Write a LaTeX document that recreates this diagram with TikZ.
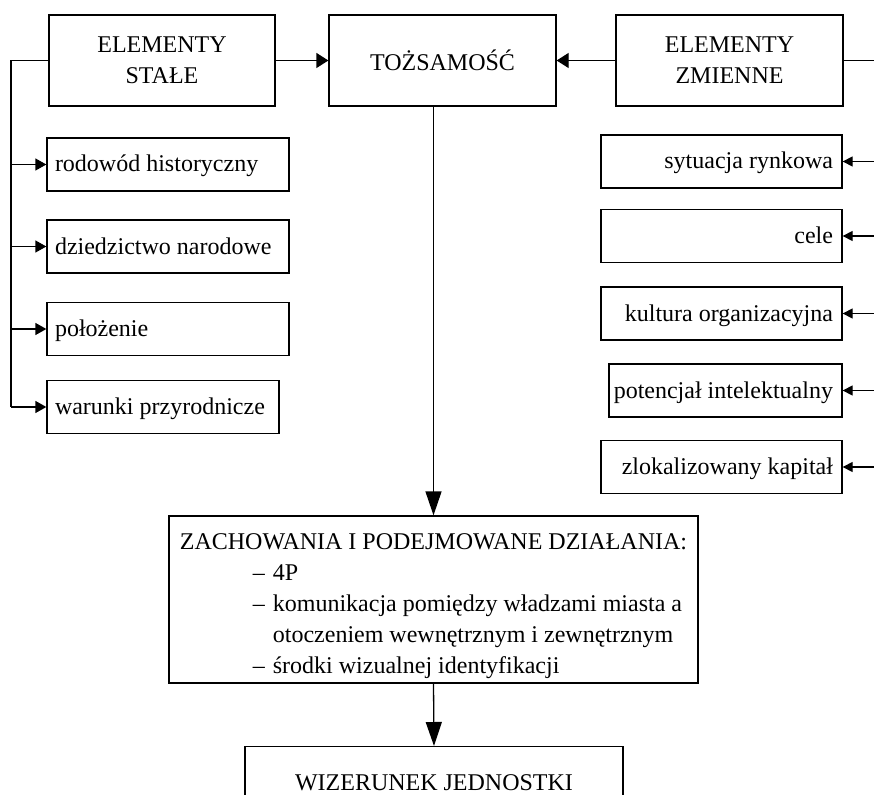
\documentclass[tikz,border=0pt]{standalone}
\usepackage{fontspec}
\setmainfont{Liberation Serif}
\usetikzlibrary{arrows.meta}
\newcommand\lefttxt[2]{\makebox[#1][l]{#2}}
\newcommand\righttxt[2]{\makebox[#1][r]{#2}}
\newcommand\itemdash{\makebox[20pt][l]{–}}
\begin{document}
\begin{tikzpicture}[x=1pt,y=-1pt,
  font=\fontsize{24}{31}\selectfont,
  box/.style={draw, line width=1.3pt, rectangle, inner sep=0pt},
  head/.style={box, minimum width=227pt, minimum height=91pt, align=center},
  itembox/.style={box, minimum height=53pt, text height=17pt, text depth=2pt},
  conn/.style={line width=1.3pt},
  smallarrow/.style={conn, -{Triangle[length=11pt,width=12pt]}},
  rightarrow/.style={conn, -{Triangle[length=10pt,width=10pt]}},
  toparrow/.style={conn, -{Triangle[length=12pt,width=15pt]}},
  bigarrow/.style={conn, -{Triangle[length=24pt,width=16pt]}},
]
\useasboundingbox (0,0) rectangle (874,794);
\clip (0,0) rectangle (874,794);

% header boxes
\node[head, minimum width=226pt] (stale) at (162,60.5) {ELEMENTY\\STAŁE};
\node[head] (tozs) at (442.5,60.5) {TOŻSAMOŚĆ};
\node[head] (zmienne) at (729.5,60.5) {ELEMENTY\\ZMIENNE};

% left items
\node[itembox, minimum width=242pt, inner xsep=8pt] (rod) at (168,164.5) {\lefttxt{226pt}{rodowód historyczny}};
\node[itembox, minimum width=242pt, inner xsep=8pt] (dzi) at (168,246.5) {\lefttxt{226pt}{dziedzictwo narodowe}};
\node[itembox, minimum width=242pt, inner xsep=8pt] (pol) at (168,329) {\lefttxt{226pt}{położenie}};
\node[itembox, minimum width=232pt, inner xsep=8pt] (war) at (163,407) {\lefttxt{216pt}{warunki przyrodnicze}};

% right items
\node[itembox, minimum width=241pt, inner xsep=9pt] (syt) at (721.5,161.5) {\righttxt{223pt}{sytuacja rynkowa}};
\node[itembox, minimum width=241pt, inner xsep=9pt] (cel) at (721.5,236) {\righttxt{223pt}{cele}};
\node[itembox, minimum width=241pt, inner xsep=9pt] (kul) at (721.5,313.5) {\righttxt{223pt}{kultura organizacyjna}};
\node[itembox, minimum width=233pt, inner xsep=9pt] (pot) at (725.5,390.5) {\righttxt{215pt}{potencjał intelektualny}};
\node[itembox, minimum width=241pt, inner xsep=9pt] (zlo) at (721.5,467) {\righttxt{223pt}{zlokalizowany kapitał}};

% behaviour box
\node[box, minimum width=529pt, minimum height=167pt] (zach) at (433.5,599.5) {};
\node[align=left, inner sep=0pt] (zachtxt) at (433.5,606) {ZACHOWANIA I PODEJMOWANE DZIAŁANIA:\\
\hspace*{73pt}\itemdash 4P\\
\hspace*{73pt}\itemdash komunikacja pomiędzy władzami miasta a\\
\hspace*{93pt}otoczeniem wewnętrznym i zewnętrznym\\
\hspace*{73pt}\itemdash środki wizualnej identyfikacji};

% image box (cut by the page edge)
\node[box, minimum width=378pt, minimum height=100pt, anchor=north] (wiz) at (434,746) {};
\node[anchor=base, inner sep=0pt] (wiztxt) at (434,790) {WIZERUNEK JEDNOSTKI};

% coordinates for free ends
\coordinate (lbot) at (11,407);
\coordinate (rx) at (874,0);

% connectors
\draw[toparrow] (stale.east) -- (tozs.west);
\draw[toparrow] (zmienne.west) -- (tozs.east);
\draw[conn] (stale.west) -| (lbot);
\draw[smallarrow] (rod.west -| lbot) -- (rod.west);
\draw[smallarrow] (dzi.west -| lbot) -- (dzi.west);
\draw[smallarrow] (pol.west -| lbot) -- (pol.west);
\draw[smallarrow] (lbot) -- (war.west);

\draw[conn] (zmienne.east) -- (zmienne.east -| rx);
\draw[rightarrow] (syt.east -| rx) -- (syt.east);
\draw[rightarrow] (cel.east -| rx) -- (cel.east);
\draw[rightarrow] (kul.east -| rx) -- (kul.east);
\draw[rightarrow] (pot.east -| rx) -- (pot.east);
\draw[rightarrow] (zlo.east -| rx) -- (zlo.east);

\draw[bigarrow] (tozs.south -| zach.north) -- (zach.north);
\draw[bigarrow] (zach.south) -- (wiz.north);
\end{tikzpicture}
\end{document}
